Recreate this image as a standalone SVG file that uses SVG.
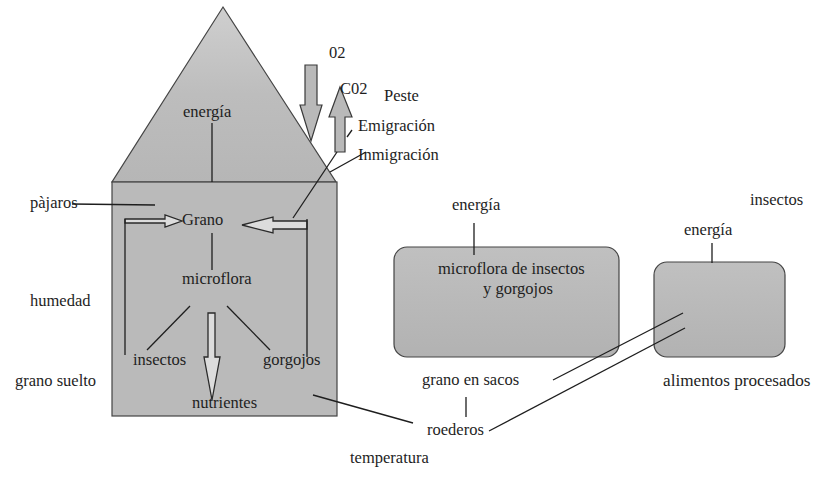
<svg xmlns="http://www.w3.org/2000/svg" width="816" height="478" viewBox="0 0 816 478">
  <defs>
    <linearGradient id="gHouse" x1="0" y1="0" x2="0" y2="1">
      <stop offset="0" stop-color="#cfcfcf"/>
      <stop offset="0.5" stop-color="#bdbdbd"/>
      <stop offset="1" stop-color="#b6b6b6"/>
    </linearGradient>
    <linearGradient id="gBox" x1="0" y1="0" x2="0" y2="1">
      <stop offset="0" stop-color="#c0c0c0"/>
      <stop offset="1" stop-color="#b2b2b2"/>
    </linearGradient>
  </defs>
  <style>
    text { font-family: "Liberation Serif", "Times New Roman", serif; font-size: 16.5px; fill: #1e1e1e; }
    .ln { stroke: #1e1e1e; stroke-width: 1.3; fill: none; }
    .outline { stroke: #444; stroke-width: 1.2; }
    .harrow { fill: #dcdcdc; stroke: #2a2a2a; stroke-width: 1.3; stroke-linejoin: miter; }
    .garrow { fill: #b9b9b9; stroke: #3a3a3a; stroke-width: 1.2; }
  </style>
  <rect width="816" height="478" fill="#ffffff"/>

  <g id="house">
    <polygon class="outline" points="223,7 336,182 112,182" fill="url(#gHouse)"/>
    <rect class="outline" x="112" y="182" width="225" height="234" fill="#bababa"/>
  </g>

  <g id="box-sacos">
    <rect class="outline" x="394" y="247" width="225" height="110" rx="13" fill="url(#gBox)"/>
    <text x="438" y="274">microflora de insectos</text>
    <text x="483" y="294">y gorgojos</text>
  </g>

  <g id="box-procesados">
    <rect class="outline" x="654" y="262" width="131" height="95" rx="13" fill="url(#gBox)"/>
  </g>

  <g id="arrows">
    <polygon class="garrow" points="305,65 317,65 317,105 322,105 311,141 300,105 305,105"/>
    <polygon class="garrow" points="340,87 352,117 345,117 345,152 335,152 335,117 329,117"/>
    <polygon class="harrow" points="125,219 165,219 165,215 182,221 165,227 165,223 125,223"/>
    <polygon class="harrow" points="242,225 273,217 273,221 307,221 307,229 273,229 273,233"/>
    <polygon class="harrow" points="208,313 215,313 215,357 220,357 212,400 204,357 208,357"/>
  </g>

  <g id="connectors">
    <line class="ln" x1="212" y1="123" x2="212" y2="182"/>
    <line class="ln" x1="347" y1="137" x2="352" y2="130"/>
    <line class="ln" x1="366" y1="152" x2="330" y2="172"/>
    <line class="ln" x1="337" y1="152" x2="293" y2="218"/>
    <line class="ln" x1="72" y1="204" x2="155" y2="205"/>
    <line class="ln" x1="125" y1="219" x2="125" y2="355"/>
    <line class="ln" x1="307" y1="219" x2="307" y2="357"/>
    <line class="ln" x1="212" y1="233" x2="212" y2="270"/>
    <line class="ln" x1="190" y1="306" x2="147" y2="350"/>
    <line class="ln" x1="227" y1="306" x2="270" y2="350"/>
    <line class="ln" x1="313" y1="395" x2="413" y2="423"/>
    <line class="ln" x1="466" y1="397" x2="466" y2="417"/>
    <line class="ln" x1="489" y1="431" x2="685" y2="328"/>
    <line class="ln" x1="553" y1="380" x2="683" y2="313"/>
    <line class="ln" x1="474" y1="223" x2="474" y2="255"/>
    <line class="ln" x1="712" y1="243" x2="712" y2="263"/>
  </g>

  <g id="labels">
    <text x="183" y="117">energía</text>
    <text x="329" y="58">02</text>
    <text x="340" y="94">C02</text>
    <text x="384" y="101">Peste</text>
    <text x="358" y="131">Emigración</text>
    <text x="358" y="160">Inmigración</text>
    <text x="30" y="208">pàjaros</text>
    <text x="182" y="225">Grano</text>
    <text x="182" y="284">microflora</text>
    <text x="133" y="365">insectos</text>
    <text x="263" y="365">gorgojos</text>
    <text x="192" y="408">nutrientes</text>
    <text x="30" y="306">humedad</text>
    <text x="15" y="386">grano suelto</text>
    <text x="452" y="210">energía</text>
    <text x="684" y="235">energía</text>
    <text x="750" y="205">insectos</text>
    <text x="663" y="386" style="font-size:17.2px">alimentos procesados</text>
    <text x="422" y="385">grano en sacos</text>
    <text x="427" y="435">roederos</text>
    <text x="350" y="463">temperatura</text>
  </g>
</svg>
